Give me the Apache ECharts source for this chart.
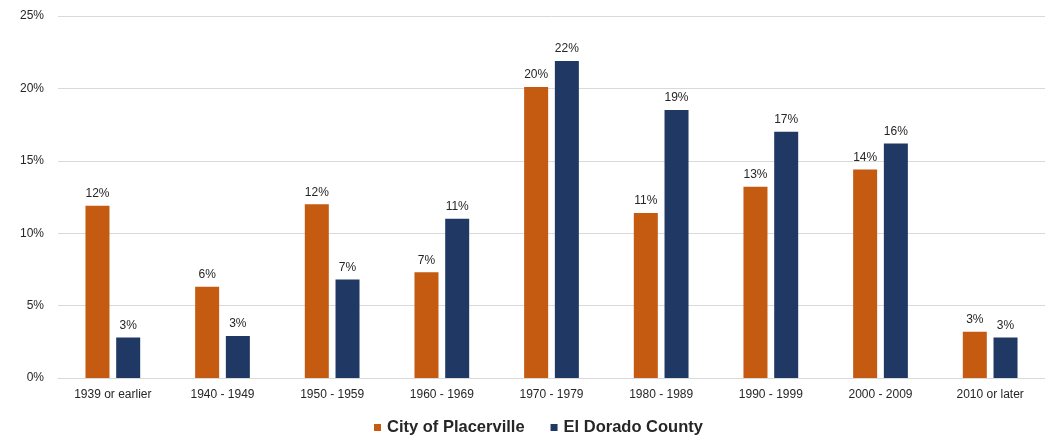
<!DOCTYPE html>
<html>
<head>
<meta charset="utf-8">
<script src="https://cdn.jsdelivr.net/npm/echarts@6/dist/echarts.min.js"></script>
<style>
  html, body { margin: 0; padding: 0; background: #ffffff; }
  #chart { width: 1045px; height: 445px; }
</style>
</head>
<body>
<div id="chart"></div>
<script>
// Share of housing units by year structure built
const categories = ['1939 or earlier', '1940 - 1949', '1950 - 1959', '1960 - 1969', '1970 - 1979',
                    '1980 - 1989', '1990 - 1999', '2000 - 2009', '2010 or later'];
const placerville = [11.9, 6.3, 12.0, 7.3, 20.1, 11.4, 13.2, 14.4, 3.2];
const elDorado = [2.8, 2.9, 6.8, 11.0, 21.9, 18.5, 17.0, 16.2, 2.8];
const seriesNames = ['City of Placerville', 'El Dorado County'];
const yTicks = [0, 5, 10, 15, 20, 25];

const chart = echarts.init(document.getElementById('chart'));

const labelStyle = {
  show: true,
  position: 'top',
  distance: 6,
  fontFamily: 'Liberation Sans, Arial, sans-serif',
  fontSize: 12,
  color: '#262626',
  formatter: p => Math.round(p.value) + '%'
};

chart.setOption({
  animation: false,
  textStyle: { fontFamily: 'Liberation Sans, Arial, sans-serif' },
  grid: { left: 58, right: -1, top: 16, bottom: 67, containLabel: false },
  legend: {
    data: seriesNames,
    top: 414,
    left: 369,
    icon: 'rect',
    itemWidth: 7,
    itemHeight: 7,
    itemGap: 26,
    textStyle: { fontSize: 16.5, fontWeight: 'bold', color: '#262626', padding: [0, 0, 0, 1] }
  },
  xAxis: {
    type: 'category',
    data: categories,
    axisLine: { show: true, lineStyle: { color: '#d9d9d9', width: 1 } },
    axisTick: { show: false },
    axisLabel: { fontSize: 12, color: '#262626', margin: 11, interval: 0 }
  },
  yAxis: {
    type: 'value',
    min: yTicks[0],
    max: yTicks[yTicks.length - 1],
    interval: 5,
    axisLine: { show: false },
    axisTick: { show: false },
    splitLine: { lineStyle: { color: '#d9d9d9', width: 1 } },
    axisLabel: { fontSize: 12, color: '#262626', margin: 14, formatter: v => v + '%' }
  },
  series: [
    {
      name: seriesNames[0],
      type: 'bar',
      data: placerville,
      barWidth: 24,
      barGap: '28%',
      itemStyle: { color: '#C55A11' },
      label: labelStyle
    },
    {
      name: seriesNames[1],
      type: 'bar',
      data: elDorado,
      barWidth: 24,
      itemStyle: { color: '#203864' },
      label: labelStyle
    }
  ]
});
</script>
</body>
</html>
